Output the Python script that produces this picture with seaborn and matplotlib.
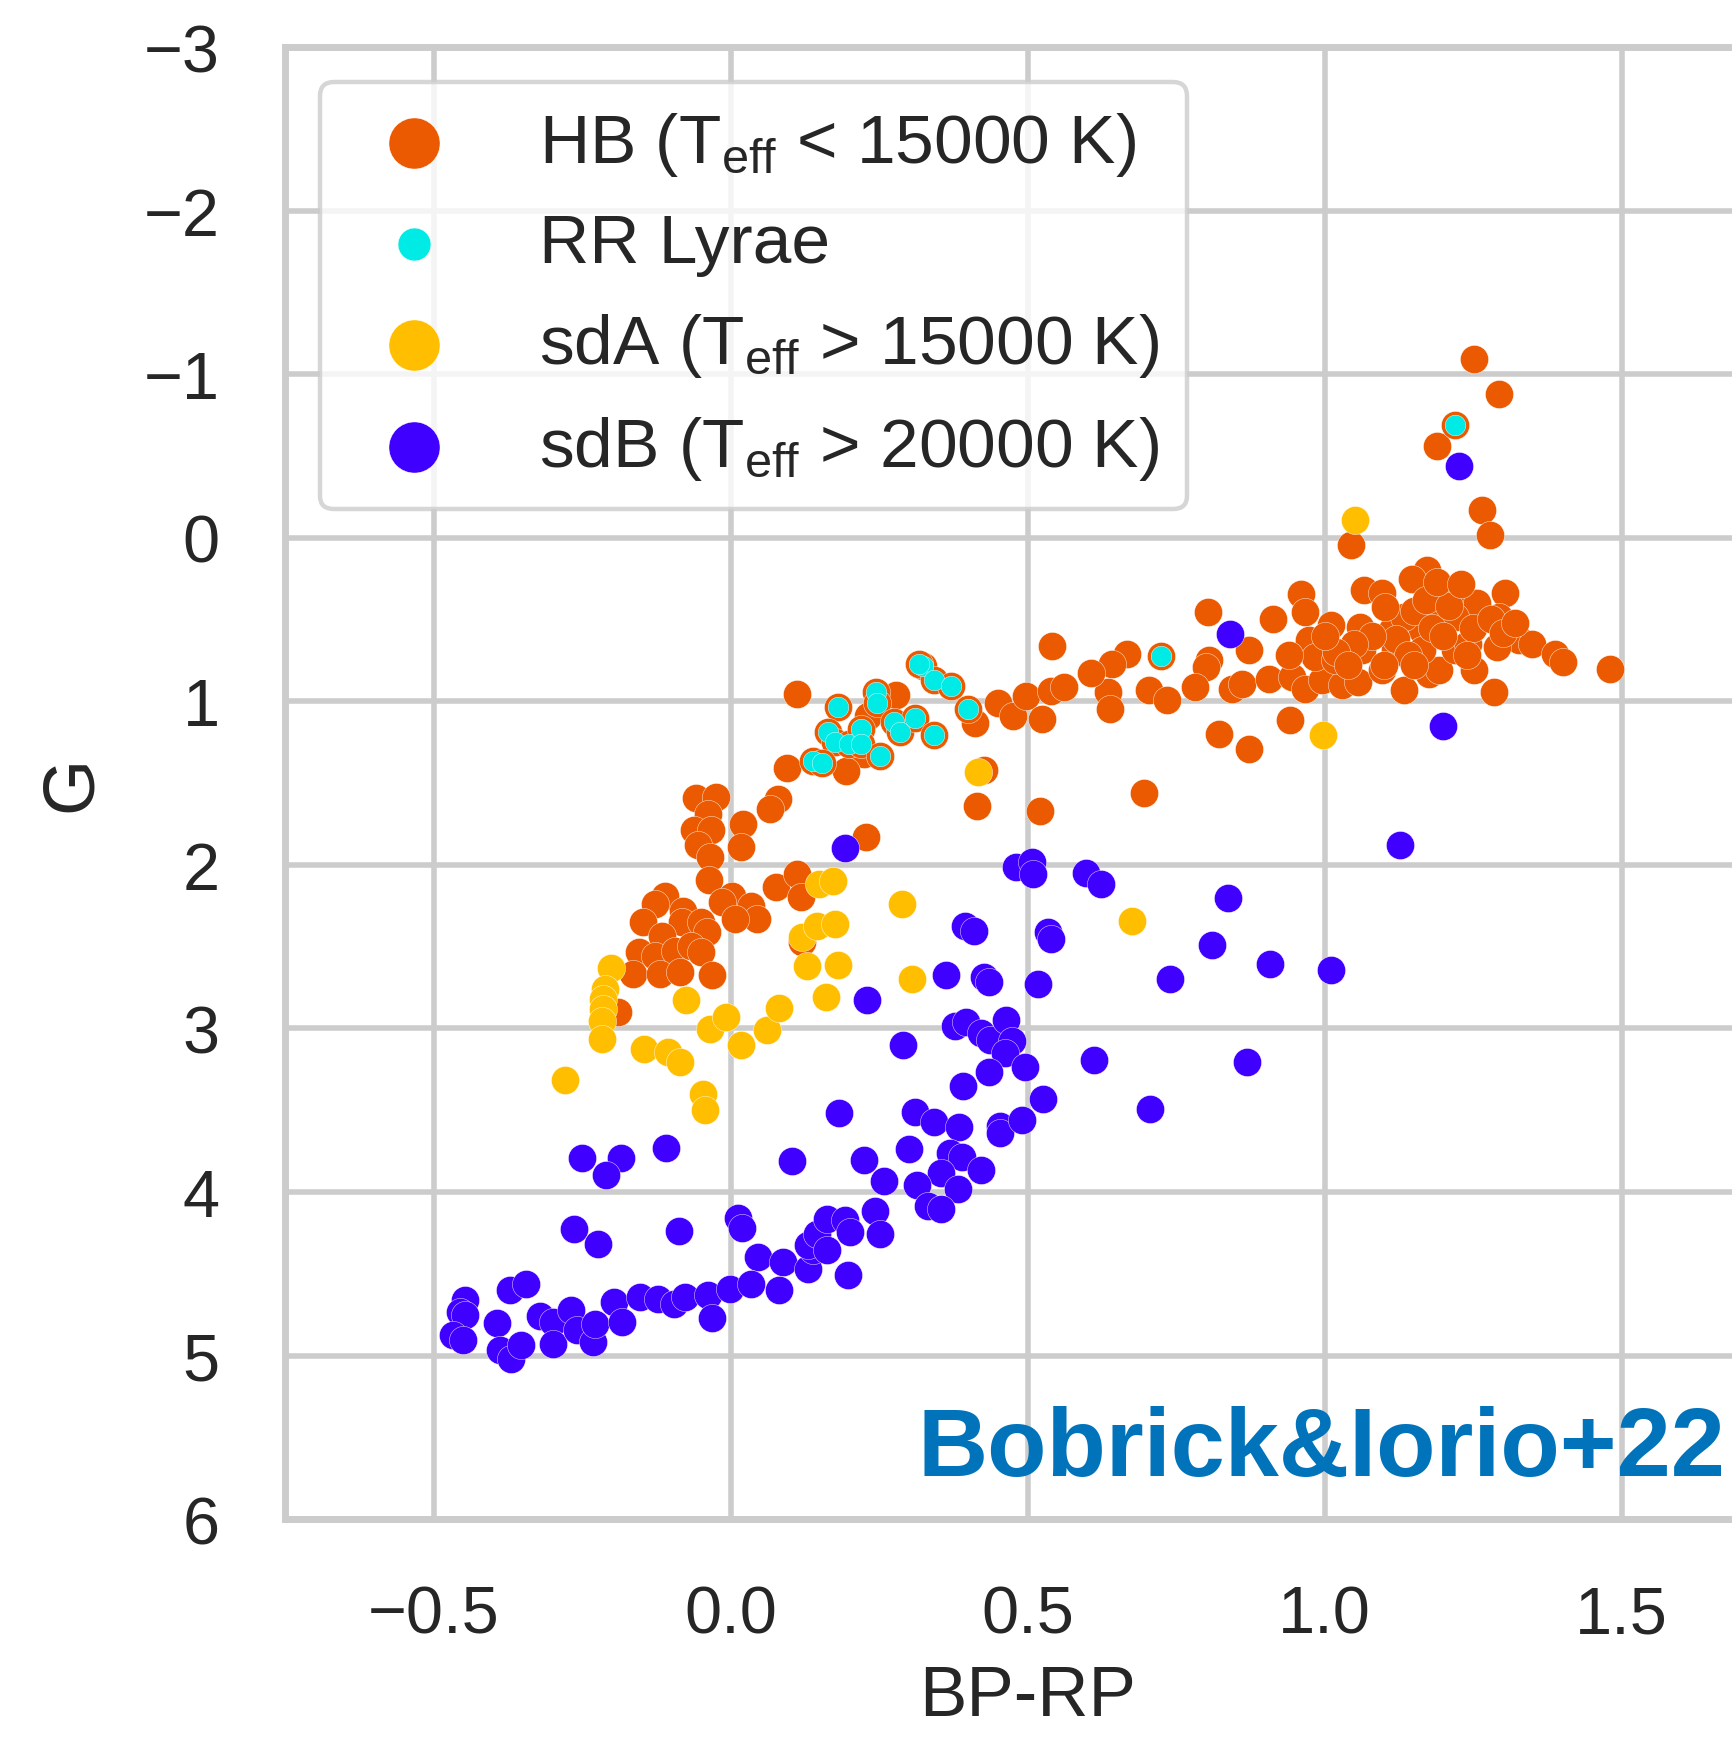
import matplotlib
matplotlib.use("Agg")
import matplotlib.pyplot as plt
import pandas as pd
import seaborn as sns

# Horizontal-branch stars (Teff < 15000 K)
hb_bprp = [
    1.251, 1.293, 1.189, 1.265, 1.279, 1.045,
    1.173, 1.147, 1.066, 1.097, 1.226, 1.304, 1.256, 1.293, 0.960, 0.967, 0.913, 0.804,
    1.010, 1.060, 1.113, 0.973, 1.198, 1.164, 1.327, 1.349, 1.388, 1.402, 1.481, 1.290,
    0.872, 0.805, 0.800, 0.667, 0.642, 0.636, 0.639, 0.704, 0.735, 0.782, 0.844, 0.861,
    0.906, 0.945, 0.967, 0.996, 1.029, 1.057, 1.097, 1.133, 1.175, 1.192, 1.251, 1.285,
    0.984, 1.018, 1.063, 1.119, 1.164, 1.220, 1.242, 1.133, 1.186, 1.220, 1.102,
    1.150, 1.180, 1.120, 1.200, 1.250, 1.140, 1.080, 1.050, 1.020, 1.280, 1.170, 1.210,
    1.240, 1.100, 1.040, 1.150, 1.000, 0.940, 1.300, 1.320, 1.190, 1.230,
    0.942, 0.822, 0.872,
    0.541, 0.112, 0.279, 0.412, 0.231, 0.225, 0.195, 0.095, 0.080, 0.066, 0.021, 0.018,
    -0.059, -0.024, -0.038, -0.061, -0.033, -0.055, -0.035, -0.037, 0.228, 0.450, 0.475,
    0.498, 0.525, 0.540, 0.562, 0.606, 0.426, 0.415, 0.521, 0.696, 0.077, 0.111, 0.119,
    -0.111, -0.127, -0.147, -0.080, -0.082, -0.049, -0.040, 0.002, -0.015, 0.035, 0.044,
    0.007, 0.120, -0.116, -0.155, -0.127, -0.094, -0.066, -0.049, -0.164, -0.119, -0.085,
    -0.032, -0.189,
]
hb_g = [
    -1.09, -0.876, -0.56, -0.167, -0.014, 0.047,
    0.20, 0.25, 0.32, 0.34, 0.34, 0.34, 0.40, 0.485, 0.346, 0.454, 0.50, 0.454,
    0.536, 0.546, 0.566, 0.628, 0.526, 0.566, 0.628, 0.648, 0.709, 0.76, 0.80, 0.668,
    0.689, 0.75, 0.79, 0.709, 0.77, 0.943, 1.045, 0.933, 0.994, 0.913, 0.923, 0.892,
    0.862, 0.852, 0.923, 0.872, 0.903, 0.882, 0.811, 0.933, 0.831, 0.811, 0.811, 0.943,
    0.729, 0.75, 0.689, 0.689, 0.689, 0.689, 0.648, 0.485, 0.444, 0.485, 0.424,
    0.45, 0.55, 0.62, 0.60, 0.55, 0.72, 0.60, 0.65, 0.70, 0.50, 0.38, 0.42,
    0.72, 0.78, 0.78, 0.78, 0.60, 0.72, 0.58, 0.52, 0.27, 0.28,
    1.112, 1.198, 1.29,
    0.664, 0.957, 0.959, 1.134, 1.09, 1.32, 1.424, 1.41, 1.597, 1.658, 1.75, 1.892,
    1.59, 1.587, 1.689, 1.79, 1.79, 1.88, 1.954, 2.092, 1.827, 1.012, 1.088,
    0.965, 1.108, 0.935, 0.91, 0.829, 1.418, 1.638, 1.672, 1.56, 2.137, 2.055, 2.198,
    2.189, 2.24, 2.352, 2.28, 2.352, 2.352, 2.413, 2.189, 2.23, 2.25, 2.33,
    2.33, 2.474, 2.434, 2.535, 2.556, 2.525, 2.495, 2.535, 2.668, 2.668, 2.658,
    2.672, 2.898,
]

# RR Lyrae variables (a subset of the HB sample)
rr_bprp = [1.219, 0.724, 0.181, 0.245, 0.246, 0.324, 0.318, 0.343, 0.371, 0.400, 0.164,
           0.175, 0.200, 0.220, 0.219, 0.275, 0.286, 0.310, 0.342, 0.251, 0.139, 0.154]
rr_g = [-0.687, 0.725, 1.037, 0.945, 1.012, 0.782, 0.77, 0.87, 0.904, 1.047, 1.19,
        1.25, 1.26, 1.17, 1.26, 1.124, 1.19, 1.10, 1.204, 1.336, 1.363, 1.379]

# Subdwarf A stars (Teff > 15000 K)
sda_bprp = [-0.202, -0.212, -0.214, -0.214, -0.217, -0.217, -0.278, -0.075, -0.146, -0.106,
            -0.085, -0.047, -0.043, -0.035, -0.008, 0.017, 0.062, 0.082, 0.120, 0.145,
            0.175, 0.128, 0.180, 0.160, 0.149, 0.173, 0.288, 0.305, 0.416, 0.676, 0.998,
            1.052]
sda_g = [2.633, 2.76, 2.82, 2.88, 2.953, 3.065, 3.316, 2.825, 3.126, 3.147,
         3.208, 3.401, 3.5, 3.004, 2.933, 3.1, 3.01, 2.876, 2.44, 2.372,
         2.362, 2.621, 2.611, 2.806, 2.118, 2.097, 2.24, 2.699, 1.434, 2.346, 1.204,
         -0.11]

# Subdwarf B stars (Teff > 20000 K)
sdb_bprp = [
    1.226, 0.841, 1.199, 1.127, 0.193,
    0.481, 0.507, 0.509, 0.598, 0.624, 0.838, 0.394, 0.409, 0.535, 0.540, 0.811, 0.908,
    1.010, 0.362, 0.427, 0.435, 0.518, 0.739, 0.377, 0.397, 0.421, 0.437, 0.463, 0.473,
    0.462, 0.496, 0.290, 0.435, 0.391, 0.611, 0.869, 0.526, 0.706, 0.310, 0.343, 0.385,
    0.454, 0.454, 0.491, 0.301, 0.369, 0.389, 0.421, 0.355, 0.313, 0.383, 0.333, 0.354,
    0.230, 0.182, -0.250, -0.185, -0.210, -0.109, 0.103, 0.224, 0.259,
    -0.264, -0.224, -0.086, 0.013, 0.020, 0.047, 0.089, 0.131, 0.139, 0.131, 0.145,
    0.162, 0.192, 0.201, 0.243, 0.251, 0.162, 0.198, 0.082,
    -0.447, -0.456, -0.447, -0.467, -0.450, -0.371, -0.345, -0.394, -0.388, -0.369,
    -0.352, -0.321, -0.299, -0.299, -0.268, -0.259, -0.232, -0.228, -0.196, -0.182,
    -0.153, -0.123, -0.095, -0.077, -0.038, -0.032, -0.001, 0.035,
]
sdb_g = [
    -0.44, 0.59, 1.149, 1.878, 1.897,
    2.015, 1.984, 2.055, 2.047, 2.117, 2.2, 2.373, 2.407, 2.413, 2.454, 2.489, 2.605,
    2.642, 2.672, 2.686, 2.717, 2.727, 2.699, 2.984, 2.963, 3.029, 3.073, 2.947, 3.079,
    3.151, 3.238, 3.1, 3.269, 3.35, 3.191, 3.206, 3.43, 3.493, 3.511, 3.574, 3.603,
    3.595, 3.64, 3.558, 3.735, 3.762, 3.786, 3.868, 3.884, 3.955, 3.982, 4.088, 4.104,
    2.827, 3.52, 3.795, 3.795, 3.894, 3.733, 3.809, 3.805, 3.931,
    4.224, 4.32, 4.238, 4.159, 4.22, 4.397, 4.428, 4.47, 4.357, 4.326, 4.255,
    4.163, 4.173, 4.245, 4.116, 4.26, 4.357, 4.51, 4.597,
    4.662, 4.733, 4.754, 4.876, 4.907, 4.601, 4.56, 4.799, 4.968, 5.019,
    4.937, 4.76, 4.795, 4.927, 4.723, 4.845, 4.917, 4.805, 4.672, 4.795,
    4.642, 4.652, 4.683, 4.642, 4.632, 4.77, 4.591, 4.56,
]

labels = [r"HB (T$_{\rm eff}$ < 15000 K)", "RR Lyrae",
          r"sdA (T$_{\rm eff}$ > 15000 K)", r"sdB (T$_{\rm eff}$ > 20000 K)"]
colors = ["#EB5A00", "#00EBE6", "#FFBF00", "#4000FF"]

sns.set_theme(style="whitegrid")
plt.rcParams["font.family"] = ["Liberation Sans", "DejaVu Sans"]
plt.rcParams["mathtext.fontset"] = "custom"
plt.rcParams["mathtext.rm"] = "Liberation Sans"
plt.rcParams["mathtext.it"] = "Liberation Sans:italic"
plt.rcParams["mathtext.bf"] = "Liberation Sans:bold"

fig = plt.figure(figsize=(17.33, 17.40), dpi=100)
ax = fig.add_axes([0.1645, 0.1264, 0.8569, 0.8460])

hb = pd.DataFrame({"BP-RP": hb_bprp + rr_bprp, "G": hb_g + rr_g})
rr = pd.DataFrame({"BP-RP": rr_bprp, "G": rr_g})
sda = pd.DataFrame({"BP-RP": sda_bprp, "G": sda_g})
sdb = pd.DataFrame({"BP-RP": sdb_bprp, "G": sdb_g})

big = 410
sns.scatterplot(data=hb, x="BP-RP", y="G", ax=ax, color=colors[0], s=big,
                edgecolor="white", linewidth=0.3, label=labels[0], legend=False)
sns.scatterplot(data=rr, x="BP-RP", y="G", ax=ax, color=colors[1], s=220,
                edgecolor="white", linewidth=0.3, label=labels[1], legend=False)
sns.scatterplot(data=sda, x="BP-RP", y="G", ax=ax, color=colors[2], s=big,
                edgecolor="white", linewidth=0.3, label=labels[2], legend=False)
sns.scatterplot(data=sdb, x="BP-RP", y="G", ax=ax, color=colors[3], s=big,
                edgecolor="white", linewidth=0.3, label=labels[3], legend=False)

ax.set_xlim(-0.75, 1.75)
ax.set_ylim(6, -3)
ax.set_xticks([-0.5, 0.0, 0.5, 1.0, 1.5])
ax.set_yticks(range(-3, 7))
ax.tick_params(axis="both", labelsize=48, pad=47, length=0)
ax.set_xlabel("BP-RP", fontsize=51, labelpad=13)
ax.set_ylabel("G", fontsize=52, labelpad=27)

ax.grid(True, color="0.8", linewidth=4)
for sp in ax.spines.values():
    sp.set_color("0.8")
    sp.set_linewidth(5)

leg = ax.legend(loc="upper left", fontsize=50, frameon=True, framealpha=0.8,
                edgecolor="0.8", fancybox=True, labelspacing=0.5,
                borderaxespad=0.5, handlelength=1.9, handletextpad=0.85,
                borderpad=0.4)
leg.get_frame().set_linewidth(3.2)
for h, sz in zip(leg.legend_handles, [1350, 560, 1350, 1350]):
    h.set_sizes([sz])

ax.text(0.315, 5.73, "Bobrick&Iorio+22", fontsize=70, fontweight="bold",
        color="#0073BA", ha="left", va="baseline")

fig.savefig("out.png", dpi=100)
